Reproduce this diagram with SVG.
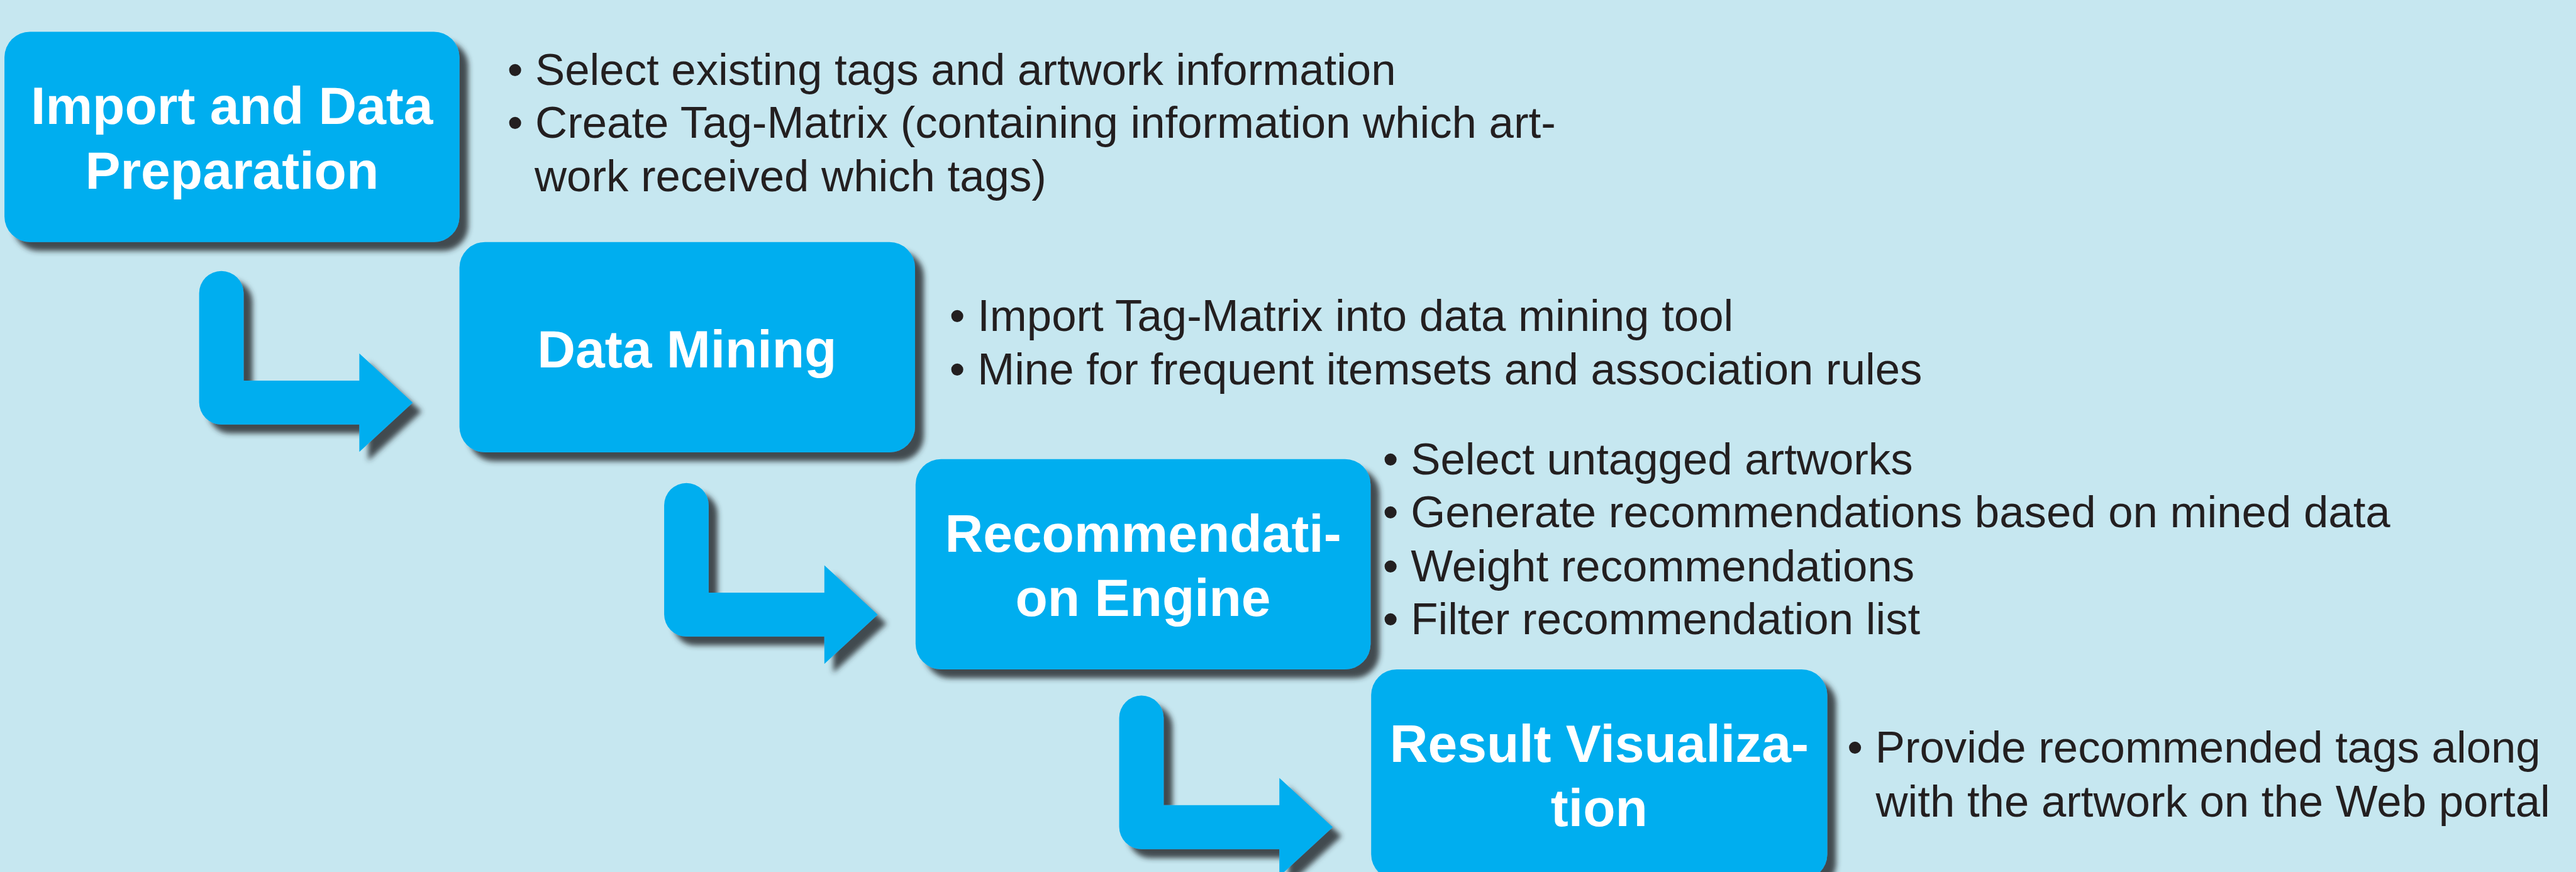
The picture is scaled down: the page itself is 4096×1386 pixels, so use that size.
<svg xmlns="http://www.w3.org/2000/svg" width="4096" height="1386" viewBox="0 0 4096 1386">
  <defs>
    <filter id="shadow" x="-10%" y="-10%" width="125%" height="130%">
      <feDropShadow dx="16" dy="16" stdDeviation="5" flood-color="#2b2f33" flood-opacity="0.85"/>
    </filter>
    <path id="arrowShape" d="M0,40 A40,40 0 0 1 80,40 L80,197 L288,197 L288,148 L384,236.5 L288,325 L288,276 L40,276 A40,40 0 0 1 0,236 Z"/>
  </defs>
  <style>
    .box { fill: #00aeef; filter: url(#shadow); }
    .arrow { fill: #00aeef; filter: url(#shadow); }
    .label { font-family: "Liberation Sans", Arial, sans-serif; font-weight: bold; font-size: 95px; fill: #ffffff; text-anchor: middle; }
    .bullet { font-family: "Liberation Sans", Arial, sans-serif; font-size: 80px; fill: #231f20; }
  </style>
  <rect x="0" y="0" width="4096" height="1386" fill="#c6e7f0"/>
  <g transform="scale(0.88447)">
    <g id="connectors">
      <use href="#arrowShape" class="arrow" transform="translate(358,487)"/>
      <use href="#arrowShape" class="arrow" transform="translate(1194,868)"/>
      <use href="#arrowShape" class="arrow" transform="translate(2012,1250)"/>
    </g>
    <g id="node-import">
      <rect class="box" x="8" y="57" width="818" height="378" rx="46" ry="46"/>
      <text class="label" x="417" y="223">Import and Data</text>
      <text class="label" x="417" y="339">Preparation</text>
      <text class="bullet" x="912" y="153">• Select existing tags and artwork information</text>
      <text class="bullet" x="912" y="248">• Create Tag-Matrix (containing information which art-</text>
      <text class="bullet" x="961" y="344">work received which tags)</text>
    </g>
    <g id="node-mining">
      <rect class="box" x="826" y="435" width="819" height="378" rx="46" ry="46"/>
      <text class="label" x="1235" y="660">Data Mining</text>
      <text class="bullet" x="1707" y="595">• Import Tag-Matrix into data mining tool</text>
      <text class="bullet" x="1707" y="691">• Mine for frequent itemsets and association rules</text>
    </g>
    <g id="node-engine">
      <rect class="box" x="1646" y="825" width="818" height="378" rx="46" ry="46"/>
      <text class="label" x="2055" y="992">Recommendati-</text>
      <text class="label" x="2055" y="1107">on Engine</text>
      <text class="bullet" x="2486" y="852">• Select untagged artworks</text>
      <text class="bullet" x="2486" y="948">• Generate recommendations based on mined data</text>
      <text class="bullet" x="2486" y="1045">• Weight recommendations</text>
      <text class="bullet" x="2486" y="1140">• Filter recommendation list</text>
    </g>
    <g id="node-result">
      <rect class="box" x="2465" y="1203" width="820" height="378" rx="46" ry="46"/>
      <text class="label" x="2875" y="1369">Result Visualiza-</text>
      <text class="label" x="2875" y="1484">tion</text>
      <text class="bullet" x="3321" y="1370">• Provide recommended tags along</text>
      <text class="bullet" x="3372" y="1467">with the artwork on the Web portal</text>
    </g>
  </g>
</svg>
